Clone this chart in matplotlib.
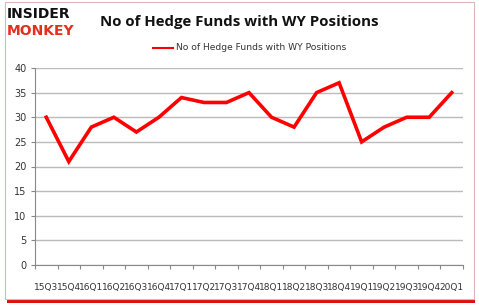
import matplotlib
matplotlib.use("Agg")
import matplotlib.pyplot as plt
from matplotlib.patches import Rectangle
import numpy as np

quarters = ["15Q3", "15Q4", "16Q1", "16Q2", "16Q3", "16Q4", "17Q1", "17Q2", "17Q3", "17Q4",
            "18Q1", "18Q2", "18Q3", "18Q4", "19Q1", "19Q2", "19Q3", "19Q4", "20Q1"]
funds = [30, 21, 28, 30, 27, 30, 34, 33, 33, 35, 30, 28, 35, 37, 25, 28, 30, 30, 35]
series_name = "No of Hedge Funds with WY Positions"
title = "No of Hedge Funds with WY Positions"
yticks = [0, 5, 10, 15, 20, 25, 30, 35, 40]

W, H = 479, 307
fig = plt.figure(figsize=(W / 100, H / 100), dpi=100)
fig.patch.set_facecolor("white")

# frame with red shadow
fig.patches.append(Rectangle((7 / W, 1 - 303 / H), 468 / W, 4 / H, transform=fig.transFigure,
                             facecolor="#e01010", edgecolor="none", zorder=0))
fig.patches.append(Rectangle((5 / W, 1 - 299 / H), 469 / W, 297 / H, transform=fig.transFigure,
                             facecolor="white", edgecolor="#d8b8b8", linewidth=0.8, zorder=1))

ax = fig.add_axes([35 / W, 1 - 265 / H, 428 / W, 197 / H])
ax.set_zorder(2)
x = np.arange(len(quarters))
ax.plot(x, funds, color="#ff0000", linewidth=2.6, solid_joinstyle="miter", label=series_name)
ax.set_xlim(-0.5, len(quarters) - 0.5)
ax.set_ylim(0, 40)
ax.set_yticks(yticks)
ax.set_yticklabels([str(v) for v in yticks], fontsize=7, color="#333333")
ax.set_xticks(x)
ax.set_xticklabels(quarters, fontsize=6.5, color="#333333")
ax.set_xticks(np.arange(-0.5, len(quarters), 1.0), minor=True)
ax.tick_params(axis="x", which="major", length=0, pad=13)
ax.tick_params(axis="x", which="minor", length=3, color="#888888", width=0.8)
ax.tick_params(axis="y", length=3, color="#888888", width=0.8, pad=3, direction="out")
ax.grid(axis="y", color="#bbbbbb", linewidth=1.0)
ax.set_axisbelow(True)
for s in ["top", "right"]:
    ax.spines[s].set_visible(False)
ax.spines["left"].set_color("#888888")
ax.spines["bottom"].set_color("#888888")
ax.set_facecolor("none")

# title and legend
fig.text(100 / W, 1 - 22 / H, title, fontsize=10.8, fontweight="bold", family="Open Sans",
         va="center", ha="left", color="#111111")
fig.lines.append(plt.Line2D([153 / W, 173 / W], [1 - 48 / H, 1 - 48 / H], transform=fig.transFigure,
                            color="#ff0000", linewidth=1.5))
fig.text(176 / W, 1 - 48 / H, series_name, fontsize=6.6, va="center", ha="left", color="#333333")

# logo
fig.text(7 / W, 1 - 14 / H, "INSIDER", fontsize=10, fontweight="heavy", family="DejaVu Sans",
         color="#111111", va="center", ha="left")
fig.text(7 / W, 1 - 31 / H, "MONKEY", fontsize=10, fontweight="heavy", family="DejaVu Sans",
         color="#e0301e", va="center", ha="left")

fig.savefig("out.png", dpi=100)
